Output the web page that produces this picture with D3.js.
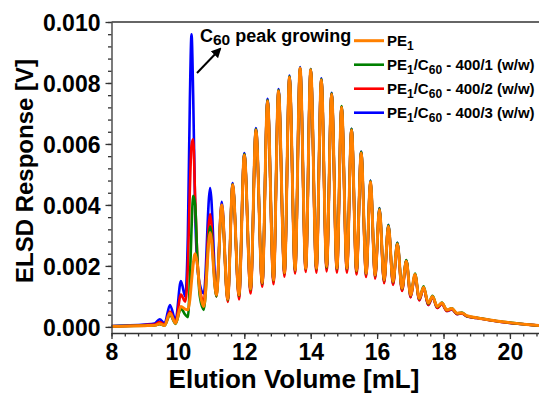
<!DOCTYPE html>
<html>
<head>
<meta charset="utf-8">
<script src="https://cdn.jsdelivr.net/npm/d3@7"></script>
<style>
  body { margin: 0; background: #fff; }
  svg { display: block; font-family: "Liberation Sans", Arial, sans-serif; font-weight: bold; }
</style>
</head>
<body>
<svg id="chart" width="539" height="394"></svg>
<script>
// elution volume grid (mL) shared by all four traces
const volume = [8.0, 8.5, 9.0, 9.3, 9.45, 9.6, 9.76, 9.93, 10.09,
  10.22, 10.30, 10.36, 10.41, 10.46, 10.52, 10.58, 10.66, 10.78,
  10.97, 11.16, 11.32, 11.50, 11.65, 11.84, 12.00, 12.19, 12.35, 12.54, 12.70, 12.88,
  13.03, 13.21, 13.36, 13.53, 13.68, 13.85, 14.00, 14.17, 14.32, 14.48, 14.63, 14.79, 14.93,
  15.09, 15.23, 15.38, 15.52, 15.67, 15.80, 15.94, 16.07, 16.21, 16.34, 16.48, 16.61, 16.75, 16.88,
  17.01, 17.14, 17.27, 17.40, 17.54, 17.67, 17.81, 17.95, 18.10, 18.25, 18.41, 18.55, 18.70,
  19.0, 19.5, 20.0, 20.5, 20.9];

// ELSD response [V]
const pe1 = [0.00002, 0.00003, 0.00004, 0.00005, 0.00010, 0.00005, 0.00045, 0.00012, 0.00067,
  0.00058, 0.00056, 0.00090, 0.00150, 0.00205, 0.00240, 0.00210, 0.00120, 0.00067,
  0.00310, 0.00105, 0.00400, 0.00091, 0.00466, 0.00105, 0.00564, 0.00124, 0.00646, 0.00145, 0.00741, 0.00154,
  0.00774, 0.00178, 0.00819, 0.00187, 0.00848, 0.00192, 0.00843, 0.00192, 0.00810, 0.00198, 0.00763, 0.00192, 0.00720,
  0.00192, 0.00646, 0.00185, 0.00570, 0.00176, 0.00475, 0.00170, 0.00385, 0.00154, 0.00330, 0.00149, 0.00272, 0.00127, 0.00215,
  0.00105, 0.00172, 0.00094, 0.00130, 0.00078, 0.00100, 0.00067, 0.00078, 0.00056, 0.00060, 0.00045, 0.00046, 0.00037,
  0.00030, 0.00021, 0.00014, 0.00008, 0.00004];

const c60_1 = [0.00002, 0.00003, 0.00004, 0.00005, 0.00009, 0.00004, 0.00040, 0.00010, 0.00060,
  0.00040, 0.00032, 0.00150, 0.00320, 0.00430, 0.00400, 0.00240, 0.00100, 0.00056,
  0.00330, 0.00100, 0.00395, 0.00088, 0.00468, 0.00102, 0.00567, 0.00122, 0.00649, 0.00142, 0.00744, 0.00152,
  0.00777, 0.00176, 0.00822, 0.00185, 0.00850, 0.00190, 0.00846, 0.00190, 0.00813, 0.00195, 0.00766, 0.00190, 0.00724,
  0.00190, 0.00650, 0.00183, 0.00574, 0.00174, 0.00479, 0.00168, 0.00389, 0.00152, 0.00334, 0.00147, 0.00276, 0.00125, 0.00219,
  0.00103, 0.00175, 0.00092, 0.00133, 0.00076, 0.00102, 0.00066, 0.00080, 0.00055, 0.00061, 0.00044, 0.00047, 0.00036,
  0.00030, 0.00021, 0.00014, 0.00008, 0.00004];

const c60_2 = [0.00002, 0.00003, 0.00006, 0.00008, 0.00016, 0.00008, 0.00050, 0.00015, 0.00106,
  0.00083, 0.00200, 0.00450, 0.00595, 0.00615, 0.00420, 0.00240, 0.00125, 0.00085,
  0.00370, 0.00100, 0.00400, 0.00082, 0.00466, 0.00090, 0.00564, 0.00110, 0.00646, 0.00132, 0.00741, 0.00140,
  0.00774, 0.00165, 0.00819, 0.00175, 0.00848, 0.00180, 0.00843, 0.00178, 0.00810, 0.00182, 0.00763, 0.00178, 0.00720,
  0.00178, 0.00646, 0.00172, 0.00570, 0.00164, 0.00475, 0.00158, 0.00385, 0.00143, 0.00330, 0.00138, 0.00272, 0.00118, 0.00215,
  0.00097, 0.00170, 0.00087, 0.00128, 0.00072, 0.00098, 0.00062, 0.00076, 0.00052, 0.00058, 0.00042, 0.00044, 0.00035,
  0.00029, 0.00020, 0.00013, 0.00008, 0.00004];

const c60_3 = [0.00003, 0.00005, 0.00008, 0.00011, 0.00025, 0.00012, 0.00072, 0.00022, 0.00150,
  0.00100, 0.00300, 0.00740, 0.00960, 0.00760, 0.00380, 0.00210, 0.00140, 0.00110,
  0.00455, 0.00115, 0.00410, 0.00088, 0.00472, 0.00098, 0.00570, 0.00118, 0.00652, 0.00138, 0.00748, 0.00148,
  0.00780, 0.00172, 0.00824, 0.00180, 0.00852, 0.00186, 0.00846, 0.00185, 0.00815, 0.00190, 0.00768, 0.00185, 0.00722,
  0.00185, 0.00650, 0.00178, 0.00575, 0.00168, 0.00480, 0.00162, 0.00390, 0.00146, 0.00335, 0.00140, 0.00276, 0.00120, 0.00218,
  0.00098, 0.00172, 0.00088, 0.00128, 0.00072, 0.00098, 0.00062, 0.00075, 0.00052, 0.00057, 0.00042, 0.00044, 0.00035,
  0.00029, 0.00020, 0.00013, 0.00008, 0.00004];

const xTicks = [8, 10, 12, 14, 16, 18, 20];
const yTicks = [0, 0.002, 0.004, 0.006, 0.008, 0.010];

// legend label pieces: [text, isSubscript]
const series = [
  { name: "c60_3", values: c60_3, color: "#0000ff", width: 2.6,
    label: [["PE", 0], ["1", 1], ["/C", 0], ["60", 1], [" - 400/3 (w/w)", 0]] },
  { name: "c60_2", values: c60_2, color: "#ff0000", width: 2.6,
    label: [["PE", 0], ["1", 1], ["/C", 0], ["60", 1], [" - 400/2 (w/w)", 0]] },
  { name: "c60_1", values: c60_1, color: "#008000", width: 2.6,
    label: [["PE", 0], ["1", 1], ["/C", 0], ["60", 1], [" - 400/1 (w/w)", 0]] },
  { name: "pe1", values: pe1, color: "#ff8000", width: 3,
    label: [["PE", 0], ["1", 1]] }
];
const legendOrder = ["pe1", "c60_1", "c60_2", "c60_3"];

const svg = d3.select("#chart");
const mLeft = 111.5, mRight = 539.8, mTop = 22, mBottom = 333;

const x = d3.scaleLinear().domain([8, 20.9]).range([mLeft, mRight]);
const y = d3.scaleLinear().domain([-0.0002, 0.010]).range([mBottom, mTop]);

svg.append("rect").attr("width", 539).attr("height", 394).attr("fill", "#fff");

const defs = svg.append("defs");
defs.append("clipPath").attr("id", "plot")
  .append("rect").attr("x", mLeft).attr("y", mTop).attr("width", mRight - mLeft).attr("height", mBottom - mTop);

// traces
const line = d3.line()
  .x((d, i) => x(volume[i]))
  .y(d => y(d))
  .curve(d3.curveMonotoneX);

svg.append("g").attr("clip-path", "url(#plot)")
  .selectAll("path")
  .data(series)
  .join("path")
  .attr("d", d => line(d.values))
  .attr("fill", "none")
  .attr("stroke", d => d.color)
  .attr("stroke-width", d => d.width)
  .attr("stroke-linejoin", "round");

// axes
const axisColor = "#333";
const minorX = d3.range(8, 20.81, 0.4);
const minorY = d3.range(0, 0.01001, 0.0004);

const gx = svg.append("g").attr("transform", `translate(0,${mBottom})`);
gx.call(d3.axisBottom(x).tickValues(minorX).tickSize(3.5).tickSizeOuter(0).tickFormat(""));
gx.call(g => g.select(".domain").remove());
const gx2 = svg.append("g").attr("transform", `translate(0,${mBottom})`)
  .call(d3.axisBottom(x).tickValues(xTicks).tickSize(6).tickSizeOuter(0).tickPadding(6).tickFormat(d3.format("d")));

const gy = svg.append("g").attr("transform", `translate(${mLeft},0)`);
gy.call(d3.axisLeft(y).tickValues(minorY).tickSize(3.5).tickSizeOuter(0).tickFormat(""));
gy.call(g => g.select(".domain").remove());
const gy2 = svg.append("g").attr("transform", `translate(${mLeft},0)`)
  .call(d3.axisLeft(y).tickValues(yTicks).tickSize(6).tickSizeOuter(0).tickPadding(5).tickFormat(d3.format(".3f")));

svg.selectAll(".domain, .tick line").attr("stroke", axisColor).attr("stroke-width", 1.3);
svg.selectAll(".tick text").attr("fill", "#000").style("font-size", "23px")
  .style("font-family", "'Liberation Sans', Arial, sans-serif").style("font-weight", "bold");
gx2.selectAll(".tick text").attr("dy", null).attr("y", 26.5);
gy2.selectAll(".tick text").attr("dy", "0.36em");

// top frame line
svg.append("line").attr("x1", mLeft).attr("x2", 539).attr("y1", mTop).attr("y2", mTop)
  .attr("stroke", axisColor).attr("stroke-width", 1.3);

// axis titles
svg.append("text").attr("x", 294).attr("y", 388).attr("text-anchor", "middle")
  .style("font-size", "26px").text("Elution Volume [mL]");
svg.append("text").attr("transform", "translate(33,171) rotate(-90)").attr("text-anchor", "middle")
  .style("font-size", "24px").text("ELSD Response [V]");

// legend
const legend = svg.append("g");
legendOrder.forEach((key, i) => {
  const s = series.find(d => d.name === key);
  const ly = 40.7 + i * 24;
  legend.append("line").attr("x1", 354).attr("x2", 384).attr("y1", ly).attr("y2", ly)
    .attr("stroke", s.color).attr("stroke-width", s.width);
  const t = legend.append("text").attr("x", 387).attr("y", ly + 5.5).style("font-size", "15px");
  let shifted = false;
  s.label.forEach(([txt, sub]) => {
    const ts = t.append("tspan").text(txt);
    if (sub) ts.style("font-size", "12px");
    if (sub && !shifted) { ts.attr("dy", 4); shifted = true; }
    else if (!sub && shifted) { ts.attr("dy", -4); shifted = false; }
  });
});

// annotation
const note = svg.append("text").attr("x", 200).attr("y", 42).style("font-size", "18px");
note.append("tspan").text("C");
note.append("tspan").attr("dy", 3).style("font-size", "15.5px").text("60");
note.append("tspan").attr("dy", -3).text(" peak growing");

defs.append("marker").attr("id", "arrow")
  .attr("viewBox", "0 0 10 10").attr("refX", 8).attr("refY", 5)
  .attr("markerWidth", 5).attr("markerHeight", 5).attr("orient", "auto")
  .append("path").attr("d", "M0,0L10,5L0,10z").attr("fill", "#000");
svg.append("line").attr("x1", 197).attr("y1", 73).attr("x2", 220).attr("y2", 49)
  .attr("stroke", "#000").attr("stroke-width", 2).attr("marker-end", "url(#arrow)");
</script>
</body>
</html>
